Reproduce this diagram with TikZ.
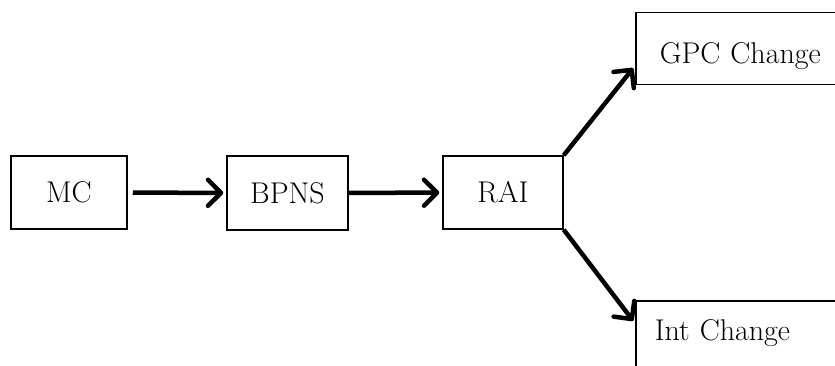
\documentclass[tikz,border=0pt]{standalone}
\usepackage{tikz}
\usetikzlibrary{arrows.meta,positioning}
\begin{document}
\begin{tikzpicture}[x=1pt,y=-1pt,
  box/.style={draw,line width=1.5pt,inner sep=0pt,font=\fontsize{30}{36}\selectfont},
  link/.style={line width=4.5pt,-{Straight Barb[length=13pt,width=26pt,round]}}]
\useasboundingbox (0,0) rectangle (835,366);
\clip (0,0) rectangle (835,366);
\node[box,minimum width=116pt,minimum height=73pt] (mc) at (69,192.5) {MC};
\node[box,minimum width=121pt,minimum height=74pt] (bpns) at (287.5,193) {BPNS};
\node[box,minimum width=120pt,minimum height=73pt] (rai) at (503,192.5) {RAI};
\node[box,anchor=north west,text width=190pt,inner xsep=24pt,minimum height=72pt,align=left,
  text height=29pt,text depth=0pt] (gpc) at (635,12) {GPC Change};
\node[box,anchor=north west,text width=190pt,inner xsep=19pt,minimum height=73pt,align=left,
  text height=14pt,text depth=7.5pt] (intc) at (635,300) {Int Change};
%\node[box] (out) at (700,192) {};
\draw[link,shorten <=5pt,shorten >=3pt] (mc) -- (bpns);
\draw[link,shorten >=3pt] (bpns) -- (rai);
\draw[link,shorten >=3pt] (rai.north east) -- ([yshift=-17pt]gpc.west);
\draw[link,shorten >=3pt] (rai.south east) -- ([yshift=14pt]intc.west);
\end{tikzpicture}
\end{document}
